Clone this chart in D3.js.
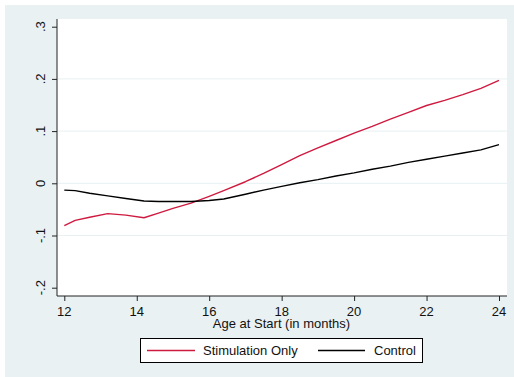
<!DOCTYPE html>
<html>
<head>
<meta charset="utf-8">
<script src="https://cdn.jsdelivr.net/npm/d3@7"></script>
<style>
  html, body { margin: 0; padding: 0; background: #ffffff; }
  svg { display: block; }
  text { font-family: "Liberation Sans", Arial, sans-serif; fill: #111; }
</style>
</head>
<body>
<svg id="chart" width="514" height="377"></svg>
<script>
// Smoothed outcome by age at start, two groups
const ages = [12.0, 12.3, 12.7, 13.2, 13.7, 14.2, 14.6, 15.0, 15.5, 16.0, 16.4, 17.0, 17.5,
              18.0, 18.5, 19.0, 19.5, 20.0, 20.5, 21.0, 21.5, 22.0, 22.5, 23.0, 23.5, 24.0];
const stimulationOnly = [-0.081, -0.071, -0.065, -0.058, -0.061, -0.066, -0.057, -0.048, -0.038, -0.025, -0.014, 0.003, 0.019,
                         0.036, 0.053, 0.068, 0.082, 0.096, 0.109, 0.123, 0.136, 0.149, 0.159, 0.170, 0.182, 0.197];
const control = [-0.013, -0.014, -0.019, -0.024, -0.029, -0.034, -0.035, -0.035, -0.035, -0.033, -0.030, -0.021, -0.013,
                 -0.006, 0.001, 0.007, 0.014, 0.020, 0.027, 0.033, 0.040, 0.046, 0.052, 0.058, 0.064, 0.074];
const xTicks = [12, 14, 16, 18, 20, 22, 24];
const yTicks = [-0.2, -0.1, 0, 0.1, 0.2, 0.3];
const yTickLabels = ["-.2", "-.1", "0", ".1", ".2", ".3"];
const gridTicks = [-0.1, 0, 0.1, 0.2];
const seriesNames = ["Stimulation Only", "Control"];
const seriesColors = ["#cf1a40", "#000000"];

const svg = d3.select("#chart");
const W = 514, H = 377;

// outer graph region
svg.append("rect").attr("x", 5).attr("y", 5).attr("width", W - 5).attr("height", H - 5)
  .attr("fill", "#eaf1f3");

const plot = { left: 57, right: 507, top: 19, bottom: 296 };
svg.append("rect").attr("x", plot.left).attr("y", plot.top)
  .attr("width", plot.right - plot.left).attr("height", plot.bottom - plot.top)
  .attr("fill", "#ffffff");

const x = d3.scaleLinear().domain([12, 24]).range([64.3, 499]);
const y = d3.scaleLinear().domain([0, 0.3]).range([183.3, 26.7]);

// gridlines
svg.append("g").selectAll("line").data(gridTicks).join("line")
  .attr("x1", plot.left).attr("x2", plot.right)
  .attr("y1", d => y(d)).attr("y2", d => y(d))
  .attr("stroke", "#e8f0f2").attr("stroke-width", 1);

// series lines
const line = d3.line().x(d => x(d[0])).y(d => y(d[1]));
[stimulationOnly, control].forEach((vals, i) => {
  svg.append("path")
    .datum(ages.map((a, j) => [a, vals[j]]))
    .attr("d", line)
    .attr("fill", "none")
    .attr("stroke", seriesColors[i])
    .attr("stroke-width", 1.4)
    .attr("stroke-linejoin", "round");
});

// y axis
const yAxis = d3.axisLeft(y).tickValues(yTicks).tickSize(5).tickFormat("");
const gy = svg.append("g").attr("transform", `translate(${plot.left},0)`).call(yAxis);
gy.select(".domain").attr("d", `M0,${plot.top}V${plot.bottom}`).attr("stroke", "#222");
gy.selectAll(".tick line").attr("stroke", "#222");
svg.append("g").selectAll("text").data(yTicks).join("text")
  .attr("transform", (d, i) => `translate(45,${y(d)}) rotate(-90)`)
  .attr("text-anchor", "middle")
  .attr("font-size", 13)
  .text((d, i) => yTickLabels[i]);

// x axis
const xAxis = d3.axisBottom(x).tickValues(xTicks).tickSize(5).tickFormat("");
const gx = svg.append("g").attr("transform", `translate(0,${plot.bottom})`).call(xAxis);
gx.select(".domain").attr("d", `M${plot.left},0H${plot.right}`).attr("stroke", "#222");
gx.selectAll(".tick line").attr("stroke", "#222");
svg.append("g").selectAll("text").data(xTicks).join("text")
  .attr("x", d => x(d)).attr("y", 316)
  .attr("text-anchor", "middle")
  .attr("font-size", 13)
  .text(d => d);

svg.append("text").attr("x", 281.5).attr("y", 327.5)
  .attr("text-anchor", "middle").attr("font-size", 13)
  .text("Age at Start (in months)");

// legend
const lg = svg.append("g");
lg.append("rect").attr("x", 140.5).attr("y", 338.5).attr("width", 282).attr("height", 24)
  .attr("fill", "#ffffff").attr("stroke", "#000").attr("stroke-width", 1);
const legendItems = [
  { x1: 147, x2: 195, tx: 203 },
  { x1: 318, x2: 365, tx: 374 }
];
legendItems.forEach((it, i) => {
  lg.append("line").attr("x1", it.x1).attr("x2", it.x2).attr("y1", 350.5).attr("y2", 350.5)
    .attr("stroke", seriesColors[i]).attr("stroke-width", 1.4);
  lg.append("text").attr("x", it.tx).attr("y", 355).attr("font-size", 13).text(seriesNames[i]);
});
</script>
</body>
</html>
